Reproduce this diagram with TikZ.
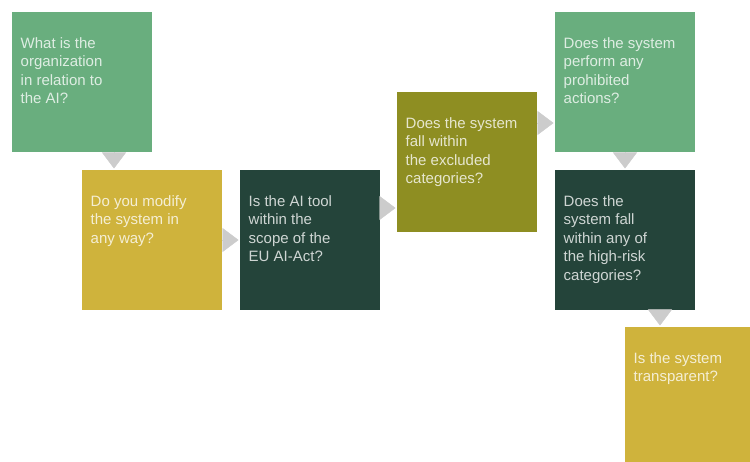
\documentclass[tikz,border=0pt]{standalone}
\usepackage{fontspec}
\setmainfont{Liberation Sans}
\usetikzlibrary{positioning,arrows.meta}

\definecolor{leaf}{HTML}{69AE7E}
\definecolor{mustard}{HTML}{CFB33C}
\definecolor{forest}{HTML}{24443A}
\definecolor{olive}{HTML}{8E8E22}
\definecolor{tri}{HTML}{CCCCCC}

\begin{document}
\begin{tikzpicture}[x=1pt, y=1pt,
    qbox/.style={rectangle, minimum size=140pt, inner sep=0pt, outer sep=0pt},
    qtext/.style={inner sep=0pt, align=left, text=white, text opacity=0.78,
                  font=\fontsize{15}{18.5}\selectfont},
    flow/.style={draw=tri, line width=0.4pt, -{Triangle[width=24pt, length=16pt]}, shorten >=1.5pt}]
    \useasboundingbox (0,0) rectangle (750,461);

    % Question boxes (name / centre / colour / question)
    \foreach \n/\x/\y/\col/\txt in {
        q1/82/379/leaf/{What is the\\organization\\in relation to\\the AI?},
        q2/152/221/mustard/{Do you modify\\the system in\\any way?},
        q3/310/221/forest/{Is the AI tool\\within the\\scope of the\\EU AI-Act?},
        q4/467/299/olive/{Does the system\\fall within\\the excluded\\categories?},
        q5/625/379/leaf/{Does the system\\perform any\\prohibited\\actions?},
        q6/625/221/forest/{Does the\\system fall\\within any of\\the high-risk\\categories?},
        q7/695/64/mustard/{Is the system\\transparent?}} {
        \node[qbox, fill=\col] (\n) at (\x, \y) {};
        \node[qtext, below right=25pt and 8.5pt of \n.north west] (\n-t) {\txt};
    }

    % Grey pointers from one question to the next
    \draw[flow] ([xshift=32pt]q1.south) -- ([xshift=-38pt]q2.north);
    \draw[flow] (q2.east) -- (q3.west);
    \draw[flow] ([yshift=32pt]q3.east) -- ([yshift=-46pt]q4.west);
    \draw[flow] ([yshift=39pt]q4.east) -- ([yshift=-41pt]q5.west);
    \draw[flow] (q5.south) -- (q6.north);
    \draw[flow] ([xshift=35pt]q6.south) -- ([xshift=-35pt]q7.north);
\end{tikzpicture}
\end{document}
